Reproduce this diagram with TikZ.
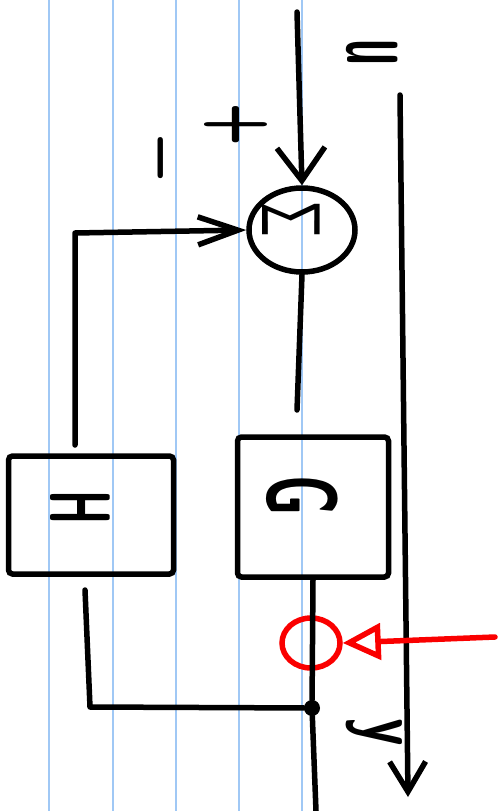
\documentclass[tikz,border=0pt]{standalone}
\usetikzlibrary{arrows.meta,shapes.geometric}
\begin{document}
\begin{tikzpicture}[x=1pt,y=-1pt,
  rule/.style={draw={rgb,255:red,160;green,200;blue,245}, line width=1.2pt},
  wire/.style={line width=5.5pt, line cap=round, line join=round},
  blk/.style={draw, line width=5.5pt, rounded corners=4pt, inner sep=0pt},
  lbl/.style={rotate=-90, inner sep=0pt, font=\sffamily\bfseries},
  redc/.style={draw={rgb,255:red,250;green,0;blue,0}, line width=5.5pt}
]
\useasboundingbox (0,0) rectangle (503,811);
% ruled paper lines
\foreach \x in {49,113,176,239,302} \draw[rule] (\x,0) -- (\x,811);

% nodes
\node[ellipse, draw, line width=5.5pt, minimum width=106pt, minimum height=84pt, inner sep=0pt] (sum) at (302,230) {};
\node[blk, minimum width=151pt, minimum height=140pt] (G) at (313,507) {};
\node[blk, minimum width=165pt, minimum height=118pt] (H) at (91,515) {};
\node[circle, fill, minimum size=16pt, inner sep=0pt] (j) at (312,708) {};
\node[ellipse, redc, minimum width=58pt, minimum height=50pt, inner sep=0pt] (mark) at (311,643) {};

% labels
\node[lbl] (sumlbl) at (291,220) {\scalebox{5}[8.3]{$\mathsf{\Sigma}$}};
\node[lbl] (glbl) at (302,496) {\fontsize{100}{100}\selectfont\scalebox{0.55}[1]{G}};
\node[lbl] (hlbl) at (80,508) {\fontsize{86}{86}\selectfont\scalebox{0.5}[1]{H}};
\node[lbl] (ulbl) at (372,52) {\fontsize{110}{110}\selectfont\scalebox{0.42}[1]{u}};
\node[lbl] (ylbl) at (374,732) {\fontsize{85}{85}\selectfont\scalebox{0.65}[1]{y}};
\node[lbl] (plus) at (236,125) {\fontsize{66}{66}\selectfont\scalebox{0.75}[1.3]{+}};
\node[lbl] (minus) at (151,158) {\fontsize{75}{75}\selectfont –};

% coordinates for free ends
\coordinate (in) at (297,12);
\coordinate (s1) at (297,410);
\coordinate (out) at (316,811);
\coordinate (fb1) at (90,707);
\coordinate (hb) at (85,590);
\coordinate (ht) at (75,445);
\coordinate (fb2) at (75,233);
\coordinate (ra) at (400,95);
\coordinate (rb) at (408,797);
\coordinate (rs) at (495,637);

% connectors
\draw[wire, -{Straight Barb[length=33pt,width=48pt]}] (in) -- (sum.north);
\draw[wire] (sum.south) -- (s1);
\draw[wire] (G.south) -- (j) -- (out);
\draw[wire] (j) -- (fb1) -- (hb);
\draw[wire, -{Straight Barb[length=40pt,width=28pt]}] (ht) -- (fb2) -- (sum.west);
\draw[wire, -{Straight Barb[length=30pt,width=36pt]}] (ra) -- (rb);
\draw[redc, line cap=round, -{Triangle[open,length=38pt,width=36pt]}] (rs) -- (mark.east);
\end{tikzpicture}
\end{document}
